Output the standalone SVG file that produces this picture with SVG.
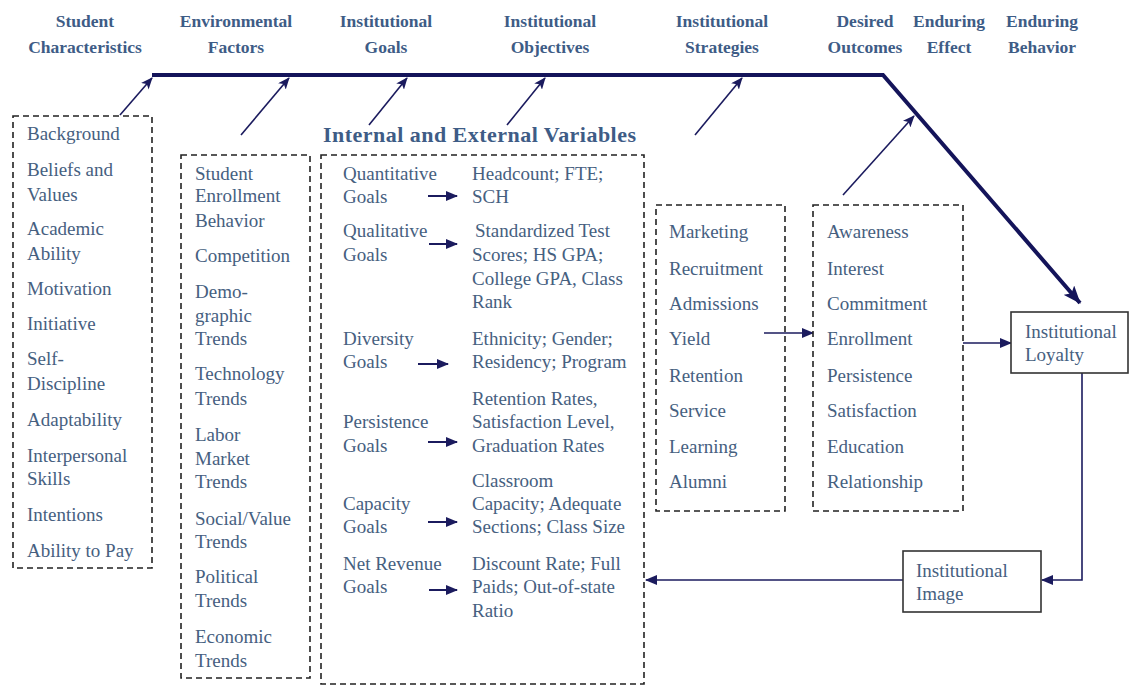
<svg xmlns="http://www.w3.org/2000/svg" width="1140" height="687" viewBox="0 0 1140 687">
<defs>
<style>
.hd{font-family:"Liberation Serif","Times New Roman",serif;font-weight:bold;font-size:17.5px;fill:#3e5c86;text-anchor:middle}
.it{font-family:"Liberation Serif","Times New Roman",serif;font-size:19px;fill:#46607f}
.ttl{font-family:"Liberation Serif","Times New Roman",serif;font-weight:bold;font-size:22px;fill:#3e5c86}
.dbox{fill:none;stroke:#222;stroke-width:1.6;stroke-dasharray:6,4}
.sbox{fill:#fff;stroke:#333;stroke-width:1.6}
.thin{fill:none;stroke:#1b1b5e;stroke-width:1.6}
.mid{fill:none;stroke:#1b1b5e;stroke-width:2}
.main{fill:none;stroke:#14145a;stroke-width:4;stroke-linejoin:miter}
</style>
<marker id="ah" markerUnits="userSpaceOnUse" markerWidth="12" markerHeight="10" refX="11" refY="5" orient="auto">
<path d="M0,0 L12,5 L0,10 L3,5 z" fill="#1b1b5e"/>
</marker>
<marker id="ah2" markerUnits="userSpaceOnUse" markerWidth="12" markerHeight="10" refX="11" refY="5" orient="auto">
<path d="M0,0 L12,5 L0,10 z" fill="#1b1b5e"/>
</marker>
<marker id="ahb" markerUnits="userSpaceOnUse" markerWidth="18" markerHeight="14" refX="17" refY="7" orient="auto">
<path d="M0,0 L18,7 L0,14 L4,7 z" fill="#14145a"/>
</marker>
</defs>
<rect width="1140" height="687" fill="#fff"/>

<g id="headers">
<text class="hd" x="85" y="27">Student</text><text class="hd" x="85" y="53">Characteristics</text>
<text class="hd" x="236" y="27">Environmental</text><text class="hd" x="236" y="53">Factors</text>
<text class="hd" x="386" y="27">Institutional</text><text class="hd" x="386" y="53">Goals</text>
<text class="hd" x="550" y="27">Institutional</text><text class="hd" x="550" y="53">Objectives</text>
<text class="hd" x="722" y="27">Institutional</text><text class="hd" x="722" y="53">Strategies</text>
<text class="hd" x="865" y="27">Desired</text><text class="hd" x="865" y="53">Outcomes</text>
<text class="hd" x="949" y="27">Enduring</text><text class="hd" x="949" y="53">Effect</text>
<text class="hd" x="1042" y="27">Enduring</text><text class="hd" x="1042" y="53">Behavior</text>
</g>

<g id="connectors">
<path class="main" d="M152,75 H883 L1080,303" marker-end="url(#ahb)"/>
<line class="thin" x1="120" y1="115" x2="152" y2="78" marker-end="url(#ah)"/>
<line class="thin" x1="241" y1="135" x2="289" y2="78" marker-end="url(#ah)"/>
<line class="thin" x1="369" y1="125" x2="407" y2="78" marker-end="url(#ah)"/>
<line class="thin" x1="507" y1="125" x2="545" y2="78" marker-end="url(#ah)"/>
<line class="thin" x1="695" y1="135" x2="742" y2="78" marker-end="url(#ah)"/>
<line class="thin" x1="843" y1="195" x2="914" y2="116" marker-end="url(#ah)"/>
<line class="mid" x1="428" y1="196" x2="457" y2="196" marker-end="url(#ah2)"/>
<line class="mid" x1="429" y1="244" x2="457" y2="244" marker-end="url(#ah2)"/>
<line class="mid" x1="418" y1="364" x2="448" y2="364" marker-end="url(#ah2)"/>
<line class="mid" x1="428" y1="442" x2="457" y2="442" marker-end="url(#ah2)"/>
<line class="mid" x1="428" y1="522" x2="457" y2="522" marker-end="url(#ah2)"/>
<line class="mid" x1="429" y1="590" x2="457" y2="590" marker-end="url(#ah2)"/>
<line class="thin" x1="764" y1="333" x2="813" y2="333" marker-end="url(#ah2)"/>
<line class="thin" x1="963" y1="343" x2="1011" y2="343" marker-end="url(#ah2)"/>
<path class="thin" d="M1082,373 V580 H1042" marker-end="url(#ah2)"/>
<line class="thin" x1="903" y1="580" x2="646" y2="580" marker-end="url(#ah2)"/>
</g>

<g id="student-characteristics">
<rect class="dbox" x="13" y="116" width="139" height="452"/>
<text class="it" x="27" y="140">Background</text>
<text class="it" x="27" y="176">Beliefs and</text>
<text class="it" x="27" y="201">Values</text>
<text class="it" x="27" y="235">Academic</text>
<text class="it" x="27" y="260">Ability</text>
<text class="it" x="27" y="295">Motivation</text>
<text class="it" x="27" y="330">Initiative</text>
<text class="it" x="27" y="365">Self-</text>
<text class="it" x="27" y="390">Discipline</text>
<text class="it" x="27" y="426">Adaptability</text>
<text class="it" x="27" y="462">Interpersonal</text>
<text class="it" x="27" y="485">Skills</text>
<text class="it" x="27" y="521">Intentions</text>
<text class="it" x="27" y="557">Ability to Pay</text>
</g>

<g id="environmental-factors">
<rect class="dbox" x="181" y="155" width="129" height="523"/>
<text class="it" x="195" y="180">Student</text>
<text class="it" x="195" y="202">Enrollment</text>
<text class="it" x="195" y="227">Behavior</text>
<text class="it" x="195" y="262">Competition</text>
<text class="it" x="195" y="298">Demo-</text>
<text class="it" x="195" y="322">graphic</text>
<text class="it" x="195" y="345">Trends</text>
<text class="it" x="195" y="380">Technology</text>
<text class="it" x="195" y="405">Trends</text>
<text class="it" x="195" y="441">Labor</text>
<text class="it" x="195" y="465">Market</text>
<text class="it" x="195" y="488">Trends</text>
<text class="it" x="195" y="525">Social/Value</text>
<text class="it" x="195" y="548">Trends</text>
<text class="it" x="195" y="583">Political</text>
<text class="it" x="195" y="607">Trends</text>
<text class="it" x="195" y="643">Economic</text>
<text class="it" x="195" y="667">Trends</text>
</g>

<g id="variables">
<text class="ttl" x="323" y="142" textLength="313" lengthAdjust="spacing">Internal and External Variables</text>
<rect class="dbox" x="321" y="155" width="323" height="529"/>
<text class="it" x="343" y="180">Quantitative</text>
<text class="it" x="343" y="203">Goals</text>
<text class="it" x="343" y="237">Qualitative</text>
<text class="it" x="343" y="261">Goals</text>
<text class="it" x="343" y="345">Diversity</text>
<text class="it" x="343" y="368">Goals</text>
<text class="it" x="343" y="428">Persistence</text>
<text class="it" x="343" y="452">Goals</text>
<text class="it" x="343" y="510">Capacity</text>
<text class="it" x="343" y="533">Goals</text>
<text class="it" x="343" y="570">Net Revenue</text>
<text class="it" x="343" y="593">Goals</text>
<text class="it" x="472" y="180">Headcount; FTE;</text>
<text class="it" x="472" y="203">SCH</text>
<text class="it" x="475" y="237">Standardized Test</text>
<text class="it" x="472" y="261">Scores; HS GPA;</text>
<text class="it" x="472" y="285">College GPA, Class</text>
<text class="it" x="472" y="308">Rank</text>
<text class="it" x="472" y="345">Ethnicity; Gender;</text>
<text class="it" x="472" y="368">Residency; Program</text>
<text class="it" x="472" y="405">Retention Rates,</text>
<text class="it" x="472" y="428">Satisfaction Level,</text>
<text class="it" x="472" y="452">Graduation Rates</text>
<text class="it" x="472" y="487">Classroom</text>
<text class="it" x="472" y="510">Capacity; Adequate</text>
<text class="it" x="472" y="533">Sections; Class Size</text>
<text class="it" x="472" y="570">Discount Rate; Full</text>
<text class="it" x="472" y="593">Paids; Out-of-state</text>
<text class="it" x="472" y="617">Ratio</text>
</g>

<g id="strategies">
<rect class="dbox" x="656" y="205" width="129" height="306"/>
<text class="it" x="669" y="238">Marketing</text>
<text class="it" x="669" y="275">Recruitment</text>
<text class="it" x="669" y="310">Admissions</text>
<text class="it" x="669" y="345">Yield</text>
<text class="it" x="669" y="382">Retention</text>
<text class="it" x="669" y="417">Service</text>
<text class="it" x="669" y="453">Learning</text>
<text class="it" x="669" y="488">Alumni</text>
</g>

<g id="outcomes">
<rect class="dbox" x="813" y="205" width="150" height="306"/>
<text class="it" x="827" y="238">Awareness</text>
<text class="it" x="827" y="275">Interest</text>
<text class="it" x="827" y="310">Commitment</text>
<text class="it" x="827" y="345">Enrollment</text>
<text class="it" x="827" y="382">Persistence</text>
<text class="it" x="827" y="417">Satisfaction</text>
<text class="it" x="827" y="453">Education</text>
<text class="it" x="827" y="488">Relationship</text>
</g>

<g id="loyalty">
<rect class="sbox" x="1011" y="312" width="117" height="61"/>
<text class="it" x="1025" y="338">Institutional</text>
<text class="it" x="1025" y="361">Loyalty</text>
</g>

<g id="image">
<rect class="sbox" x="903" y="551" width="138" height="61"/>
<text class="it" x="916" y="577">Institutional</text>
<text class="it" x="916" y="600">Image</text>
</g>
</svg>
